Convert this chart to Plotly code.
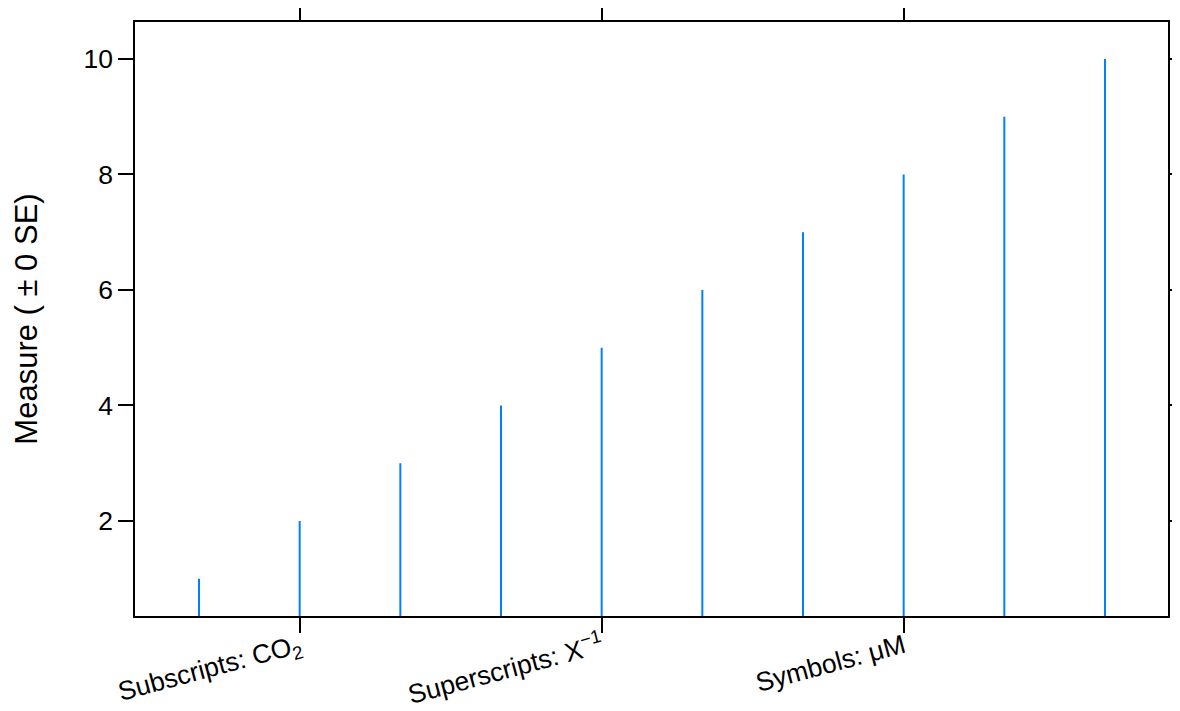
import plotly.graph_objects as go

# data
x_vals = [1, 2, 3, 4, 5, 6, 7, 8, 9, 10]
y_vals = [1, 2, 3, 4, 5, 6, 7, 8, 9, 10]
x_tick_vals = [2, 5, 8]
x_tick_text = ["Subscripts: CO<sub>2</sub>", "Superscripts: X<sup>\u22121</sup>", "Symbols: \u03bcM"]
y_tick_vals = [2, 4, 6, 8, 10]
y_title = "Measure ( \u00b1 0 SE)"

# build "type h" segments from origin to each value
seg_x, seg_y = [], []
for xv, yv in zip(x_vals, y_vals):
    seg_x += [xv, xv, None]
    seg_y += [0, yv, None]

FONT = "Liberation Sans, Arial, Helvetica, sans-serif"

fig = go.Figure()
fig.add_trace(go.Scatter(x=seg_x, y=seg_y, mode="lines",
                         line=dict(color="#0080ff", width=2),
                         hoverinfo="skip", showlegend=False))

fig.update_layout(
    width=1172, height=703,
    margin=dict(l=127, r=12, t=14, b=95),
    paper_bgcolor="white", plot_bgcolor="white",
    font=dict(family=FONT, color="black"),
    showlegend=False,
)
fig.update_xaxes(
    range=[0.364, 10.626], tickmode="array", tickvals=x_tick_vals, ticktext=x_tick_text,
    tickangle=-15, ticks="outside", ticklen=15, tickwidth=1.5, tickcolor="black",
    ticklabelstandoff=-12,
    showline=True, linecolor="black", linewidth=1.6, mirror="ticks", automargin=False,
    showgrid=False, zeroline=False, tickfont=dict(size=26.5, family=FONT, color="black"),
)
fig.update_yaxes(
    range=[0.355, 10.64], tickmode="array", tickvals=y_tick_vals,
    ticks="outside", ticklen=15, tickwidth=1.5, tickcolor="black",
    showline=True, linecolor="black", linewidth=1.6, mirror="ticks", automargin=False,
    showgrid=False, zeroline=False, tickfont=dict(size=26.5, family=FONT, color="black"),
    title=dict(text=y_title, font=dict(size=31, family=FONT, color="black"), standoff=37),
)

fig.write_html("out.html")
